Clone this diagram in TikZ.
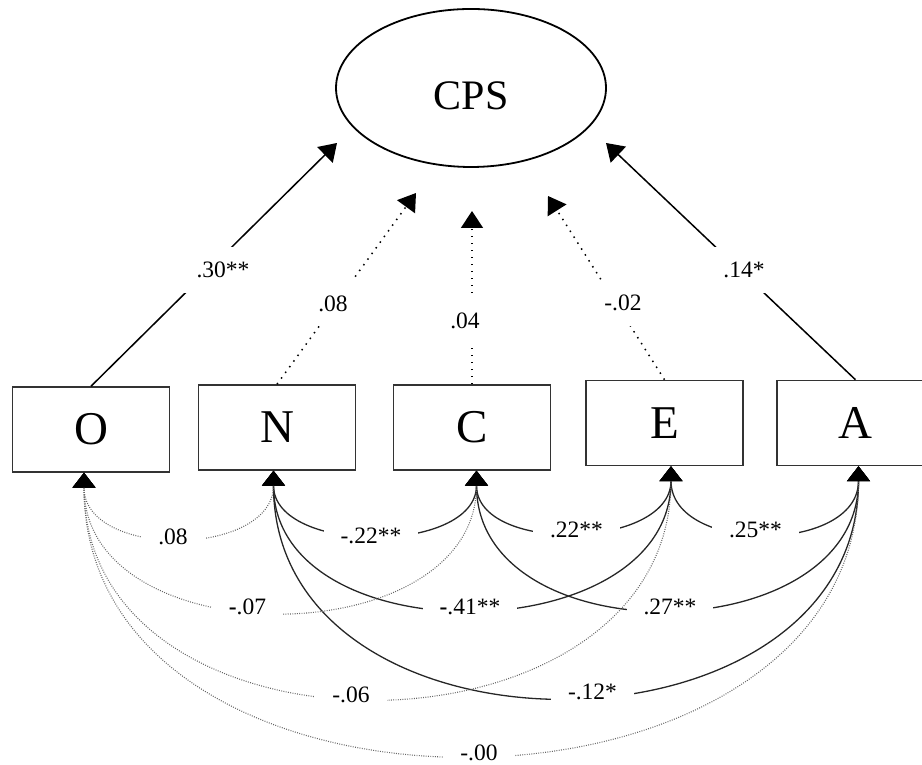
\documentclass[tikz,border=0pt]{standalone}
\usepackage{fontspec}
\setmainfont{Liberation Serif}
\usetikzlibrary{arrows.meta,shapes.geometric,calc}
\begin{document}
\begin{tikzpicture}[x=1pt,y=1pt,
  var/.style={draw=black!80, line width=1.5pt, minimum width=157pt, minimum height=85pt, inner sep=0pt, font=\fontsize{47}{50}\selectfont},
  lat/.style={ellipse, draw=black, line width=1.8pt, minimum width=270pt, minimum height=158pt, inner sep=0pt, font=\fontsize{42}{46}\selectfont, text height=44pt, text depth=0pt},
  lab/.style={fill=white, inner xsep=17pt, inner ysep=15pt, text height=16pt, text depth=0pt, font=\fontsize{23.5}{26}\selectfont},
  toptip/.style={-{Triangle[width=22pt,length=17pt,color=black]}},
  botptip/.style={{Triangle[width=23pt,length=15pt,color=black]}-{Triangle[width=23pt,length=15pt,color=black]}},
  hsolid/.style={line width=1.5pt, toptip},
  hdot/.style={line width=1.5pt, dash pattern=on 1.5pt off 5.5pt, toptip},
  csolid/.style={draw=black!85, line width=1.3pt, botptip},
  cdot/.style={draw=black!60, line width=1.1pt, dash pattern=on 0.9pt off 1.4pt, botptip}
]
\path[use as bounding box, clip] (0,0) rectangle (922,765);

% latent variable
\node[lat] (CPS) at (471,677) {CPS};

% observed variables
\node[var] (O) at (91,335.5) {O};
\node[var] (N) at (277,337.5) {N};
\node[var] (C) at (472,337.5) {C};
\node[var] (E) at (664.5,342) {E};
\node[var] (A) at (855.5,342) {A};

% free ends of the regression arrows
\coordinate (tO) at (337,622);
\coordinate (tN) at (416,572);
\coordinate (tC) at (472,554);
\coordinate (tE) at (548,569);
\coordinate (tA) at (606,622);

\draw[hsolid] (O.north) -- node[lab,pos=0.4795,xshift=14pt] {.30**} (tO);
\draw[hdot] (N.north) -- node[lab,pos=0.4245,xshift=-3pt] {.08} (tN);
\draw[hdot] (C.north) -- node[lab,pos=0.3695,xshift=-7pt] {.04} (tC);
\draw[hdot] (E.north) -- node[lab,pos=0.419,xshift=7.3pt] {-.02} (tE);
\draw[hsolid] (A.north) -- node[lab,pos=0.4643,xshift=4.3pt] {.14*} (tA);

% covariance end points
\coordinate (Ob) at ($(O.south)+(-7,0)$);
\coordinate (Nb) at ($(N.south)+(-3.5,0)$);
\coordinate (Cb) at ($(C.south)+(4.5,0)$);
\coordinate (Eb) at ($(E.south)+(6.5,0)$);
\coordinate (Ab) at ($(A.south)+(3,0)$);

% solid covariances
\draw[csolid] (Nb) to[out=-90,in=-90,distance=84pt] node[lab,xshift=-4pt,yshift=-2pt] {-.22**} (Cb);
\draw[csolid] (Cb) to[out=-90,in=-90,distance=83.3pt] node[lab,xshift=2.75pt,yshift=1.5pt] {.22**} (Eb);
\draw[csolid] (Eb) to[out=-90,in=-90,distance=88pt] node[lab,xshift=-9.25pt,yshift=2.5pt] {.25**} (Ab);
\draw[csolid] (Nb) to[out=-90,in=-90,distance=186pt] node[lab,xshift=-2.25pt,yshift=1pt] {\textbf{-}.41**} (Eb);
\draw[csolid] (Cb) to[out=-90,in=-90,distance=186pt] node[lab,xshift=2.5pt,yshift=1pt] {.27**} (Ab);
\draw[csolid] (Nb) to[out=-90,in=-90,distance=303pt] node[lab,xshift=26.5pt,yshift=3.75pt] {-.12*} (Ab);

% dotted covariances
\draw[cdot] (Ob) to[out=-90,in=-90,distance=86.7pt] node[lab,xshift=-5.75pt] {.08} (Nb);
\draw[cdot] (Ob) to[out=-90,in=-90,distance=185pt] node[lab,xshift=-32.75pt,yshift=4.25pt] {\textbf{-}.07} (Cb);
\draw[cdot] (Ob) to[out=-90,in=-90,distance=303pt] node[lab,xshift=-26.5pt,yshift=1.75pt] {-.06} (Eb);
\draw[cdot] (Ob) to[out=-90,in=-90,distance=379pt] node[lab,xshift=7.75pt,yshift=0.75pt] {-.00} (Ab);
\end{tikzpicture}
\end{document}
